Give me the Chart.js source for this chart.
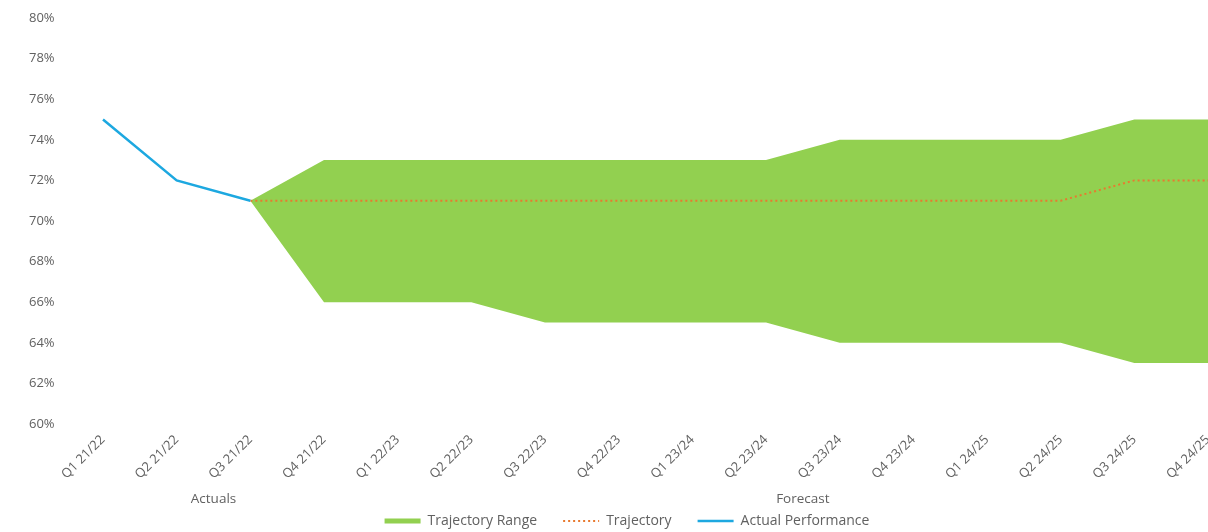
<!DOCTYPE html>
<html>
<head>
<meta charset="utf-8">
<script src="https://cdn.jsdelivr.net/npm/chart.js@4.4.1/dist/chart.umd.min.js"></script>
<style>
  html, body { margin: 0; padding: 0; background: #ffffff; overflow: hidden; }
  #wrap { position: relative; width: 1208px; height: 532px; }
</style>
</head>
<body>
<div id="wrap"><canvas id="chart"></canvas></div>
<script>
// Quarterly categories (financial years)
const quarters = [
  'Q1 21/22', 'Q2 21/22', 'Q3 21/22', 'Q4 21/22',
  'Q1 22/23', 'Q2 22/23', 'Q3 22/23', 'Q4 22/23',
  'Q1 23/24', 'Q2 23/24', 'Q3 23/24', 'Q4 23/24',
  'Q1 24/25', 'Q2 24/25', 'Q3 24/25', 'Q4 24/25'
];

// Actual performance (%)
const actualPerformance = [75, 72, 71, null, null, null, null, null, null, null, null, null, null, null, null, null];

// Central trajectory (%)
const trajectory = [null, null, 71, 71, 71, 71, 71, 71, 71, 71, 71, 71, 71, 71, 72, 72];

// Trajectory range bounds (%)
const rangeLower = [null, null, 71, 66, 66, 66, 65, 65, 65, 65, 64, 64, 64, 64, 63, 63];
const rangeUpper = [null, null, 71, 73, 73, 73, 73, 73, 73, 73, 74, 74, 74, 74, 75, 75];

// Category groups under the axis: label, first index, last index
const groupNames = ['Actuals', 'Forecast'];
const groupStart = [0, 4];
const groupEnd = [3, 15];

// Y axis range
const yMin = 60, yMax = 80, yStep = 2;

const textColor = '#616161';
const fontFamily = '"Open Sans", "Noto Sans", sans-serif';
const green = '#92D050';
const orange = '#E8792F';
const blue = '#1DA8E0';

// Draws the group names (Actuals / Forecast) under the quarter labels
const groupLabelPlugin = {
  id: 'groupLabels',
  afterDraw(chart) {
    const x = chart.scales.x;
    const ctx = chart.ctx;
    ctx.save();
    ctx.font = '13.5px ' + fontFamily;
    ctx.fillStyle = textColor;
    ctx.textAlign = 'center';
    ctx.textBaseline = 'middle';
    groupNames.forEach((name, i) => {
      const cx = (x.getPixelForValue(groupStart[i]) + x.getPixelForValue(groupEnd[i])) / 2;
      ctx.fillText(name, cx, x.top + 75);
    });
    ctx.restore();
  }
};

new Chart(document.getElementById('chart'), {
  type: 'line',
  data: {
    labels: quarters,
    datasets: [
      {
        label: 'Range lower',
        data: rangeLower,
        borderWidth: 0,
        pointRadius: 0,
        fill: false,
        order: 2
      },
      {
        label: 'Trajectory Range',
        data: rangeUpper,
        borderWidth: 0,
        borderColor: green,
        backgroundColor: green,
        pointRadius: 0,
        fill: 0,
        order: 2
      },
      {
        label: 'Trajectory',
        data: trajectory,
        borderColor: orange,
        borderWidth: 2,
        borderDash: [2, 3],
        pointRadius: 0,
        fill: false,
        order: 1
      },
      {
        label: 'Actual Performance',
        data: actualPerformance,
        borderColor: blue,
        borderWidth: 2.5,
        pointRadius: 0,
        fill: false,
        order: 0
      }
    ]
  },
  options: {
    responsive: true,
    maintainAspectRatio: false,
    animation: false,
    layout: { padding: { top: 18, left: 46, right: 0, bottom: -6 } },
    plugins: {
      tooltip: { enabled: false },
      legend: {
        position: 'bottom',
        labels: {
          color: textColor,
          font: { family: fontFamily, size: 14 },
          usePointStyle: true,
          pointStyleWidth: 36,
          padding: 26,
          generateLabels(chart) {
            const ds = chart.data.datasets;
            return [
              { text: ds[1].label, pointStyle: 'line', strokeStyle: green, fillStyle: green, lineWidth: 5, lineDash: [], datasetIndex: 1, fontColor: textColor },
              { text: ds[2].label, pointStyle: 'line', strokeStyle: orange, fillStyle: orange, lineWidth: 2, lineDash: [2, 3], datasetIndex: 2, fontColor: textColor },
              { text: ds[3].label, pointStyle: 'line', strokeStyle: blue, fillStyle: blue, lineWidth: 2.5, lineDash: [], datasetIndex: 3, fontColor: textColor }
            ];
          }
        }
      }
    },
    scales: {
      x: {
        offset: false,
        grid: { display: false },
        border: { display: false },
        ticks: {
          color: textColor,
          font: { family: fontFamily, size: 13 },
          autoSkip: false,
          maxRotation: 45,
          minRotation: 45,
          padding: 0
        },
        afterFit(scale) {
          scale.paddingLeft = 0;
          scale.paddingRight = 0;
          scale.height = 64;
        }
      },
      y: {
        min: yMin,
        max: yMax,
        grid: { display: false },
        border: { display: false },
        ticks: {
          stepSize: yStep,
          color: textColor,
          font: { family: fontFamily, size: 13 },
          mirror: true,
          crossAlign: 'near',
          padding: -74,
          callback: v => v + '%'
        },
        afterFit(scale) {
          scale.width = 57;
          scale.paddingTop = 0;
          scale.paddingBottom = 0;
        }
      }
    }
  },
  plugins: [groupLabelPlugin]
});
</script>
</body>
</html>
